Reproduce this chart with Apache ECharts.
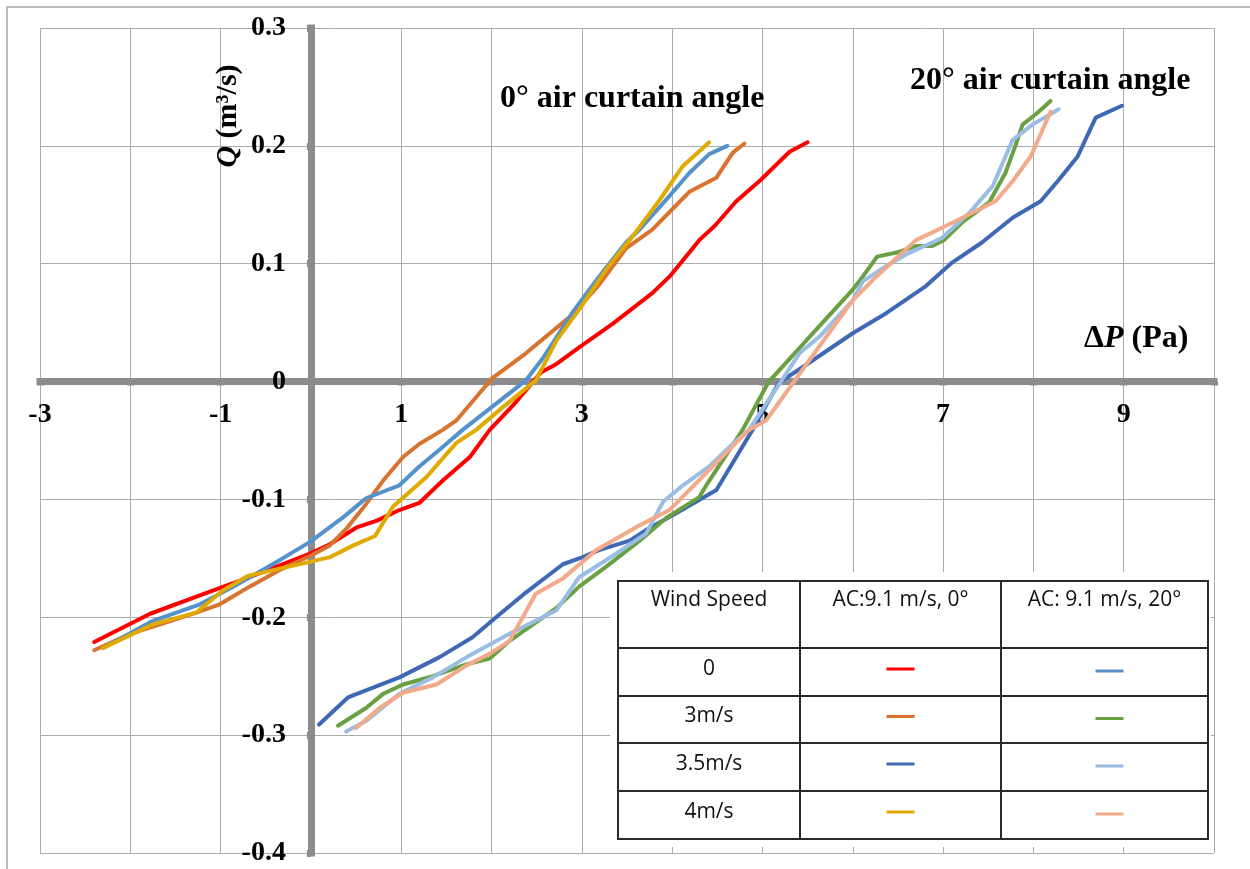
<!DOCTYPE html>
<html>
<head>
<meta charset="utf-8">
<script src="https://cdn.jsdelivr.net/npm/echarts@6/dist/echarts.min.js"></script>
<style>html,body{margin:0;padding:0;background:#fff;}#c{width:1250px;height:869px;}</style>
</head>
<body>
<div id="c"></div>
<script>
// ---- data: [ΔP (Pa), Q (m3/s)] ----
const ac0_wind0   = [[-2.40,-0.221],[-1.78,-0.197],[-0.93,-0.173],[-0.68,-0.166],[-0.01,-0.146],[0.21,-0.138],[0.50,-0.124],[0.73,-0.118],[0.98,-0.109],[1.20,-0.103],[1.46,-0.084],[1.76,-0.064],[1.98,-0.041],[2.24,-0.020],[2.55,0.008],[2.72,0.015],[2.99,0.030],[3.34,0.049],[3.78,0.075],[3.97,0.089],[4.12,0.103],[4.30,0.120],[4.47,0.132],[4.71,0.153],[4.98,0.171],[5.30,0.195],[5.50,0.203]];
const ac0_wind3   = [[-2.40,-0.228],[-2.00,-0.214],[-1.67,-0.206],[-1.27,-0.196],[-1.01,-0.189],[-0.68,-0.174],[-0.35,-0.160],[-0.01,-0.148],[0.21,-0.139],[0.39,-0.125],[0.61,-0.104],[0.80,-0.084],[1.02,-0.064],[1.20,-0.053],[1.46,-0.041],[1.61,-0.033],[2.01,0.003],[2.38,0.024],[2.90,0.057],[3.19,0.082],[3.49,0.113],[3.78,0.129],[4.19,0.161],[4.49,0.173],[4.67,0.194],[4.80,0.202]];
const ac0_wind35  = [[-2.30,-0.226],[-1.75,-0.203],[-1.23,-0.189],[-0.86,-0.174],[-0.38,-0.153],[-0.01,-0.136],[0.36,-0.115],[0.61,-0.099],[0.98,-0.088],[1.20,-0.072],[1.42,-0.058],[1.68,-0.041],[2.38,0.001],[2.57,0.020],[2.90,0.059],[3.19,0.089],[3.49,0.118],[3.64,0.129],[3.93,0.154],[4.19,0.177],[4.41,0.193],[4.61,0.200]];
const ac0_wind4   = [[-2.30,-0.226],[-1.75,-0.206],[-1.27,-0.196],[-0.97,-0.177],[-0.70,-0.165],[-0.42,-0.160],[-0.01,-0.153],[0.21,-0.149],[0.47,-0.139],[0.71,-0.131],[0.91,-0.106],[1.28,-0.081],[1.61,-0.052],[1.83,-0.041],[2.09,-0.024],[2.49,0.001],[2.72,0.035],[2.97,0.061],[3.27,0.095],[3.56,0.123],[3.86,0.154],[4.12,0.183],[4.41,0.203]];
const ac20_wind0  = [[0.09,-0.291],[0.41,-0.268],[0.98,-0.251],[1.42,-0.234],[1.79,-0.217],[2.05,-0.200],[2.38,-0.179],[2.79,-0.155],[3.01,-0.149],[3.19,-0.143],[3.53,-0.135],[3.71,-0.126],[4.04,-0.112],[4.49,-0.092],[4.89,-0.041],[5.18,-0.001],[5.46,0.013],[6.00,0.041],[6.37,0.058],[6.81,0.081],[7.10,0.101],[7.43,0.118],[7.77,0.139],[8.08,0.153],[8.28,0.171],[8.49,0.191],[8.69,0.224],[8.98,0.234]];
const ac20_wind3  = [[0.30,-0.292],[0.61,-0.277],[0.80,-0.265],[1.02,-0.257],[1.35,-0.250],[1.72,-0.240],[1.98,-0.235],[2.20,-0.220],[2.46,-0.206],[2.72,-0.192],[2.97,-0.174],[3.27,-0.157],[3.64,-0.135],[3.93,-0.116],[4.30,-0.098],[4.37,-0.089],[4.78,-0.041],[5.07,0.000],[5.19,0.010],[5.63,0.047],[6.00,0.078],[6.11,0.089],[6.27,0.106],[6.51,0.110],[6.70,0.115],[6.88,0.115],[7.01,0.120],[7.21,0.135],[7.51,0.152],[7.69,0.177],[7.80,0.200],[7.88,0.218],[8.03,0.227],[8.19,0.238]];
const ac20_wind35 = [[0.39,-0.297],[0.61,-0.288],[0.98,-0.265],[1.35,-0.251],[1.72,-0.234],[2.20,-0.214],[2.46,-0.204],[2.72,-0.194],[2.97,-0.166],[3.34,-0.148],[3.71,-0.129],[3.90,-0.102],[4.12,-0.088],[4.41,-0.072],[4.67,-0.053],[4.85,-0.041],[5.41,0.024],[5.63,0.038],[6.00,0.069],[6.11,0.085],[6.37,0.098],[6.62,0.109],[6.88,0.118],[6.99,0.122],[7.29,0.143],[7.55,0.166],[7.77,0.205],[7.99,0.218],[8.28,0.231]];
const ac20_wind4  = [[0.50,-0.294],[0.76,-0.277],[1.02,-0.264],[1.39,-0.257],[1.72,-0.241],[1.98,-0.231],[2.20,-0.220],[2.49,-0.180],[2.79,-0.167],[3.16,-0.143],[3.64,-0.122],[3.97,-0.109],[4.45,-0.072],[4.85,-0.041],[5.04,-0.033],[5.63,0.030],[6.00,0.069],[6.26,0.089],[6.70,0.120],[7.03,0.132],[7.29,0.142],[7.58,0.153],[7.77,0.170],[7.97,0.191],[8.19,0.229]];

const seriesNames  = ['AC 0°, wind 0','AC 0°, wind 3m/s','AC 0°, wind 3.5m/s','AC 0°, wind 4m/s','AC 20°, wind 0','AC 20°, wind 3m/s','AC 20°, wind 3.5m/s','AC 20°, wind 4m/s'];
const seriesData   = [ac0_wind0, ac0_wind3, ac0_wind35, ac0_wind4, ac20_wind0, ac20_wind3, ac20_wind35, ac20_wind4];
const seriesColors = ['#FF0000','#D9742F','#5592CC','#E0AA00','#3F68B5','#69A042','#9ABEE3','#F2AA8A'];

// legend table content
const tableHeaders = ['Wind Speed','AC:9.1 m/s, 0°','AC: 9.1 m/s, 20°'];
const tableRows    = ['0','3m/s','3.5m/s','4m/s'];
const tableColors0  = ['#FF0000','#D9742F','#3F68B5','#E0AA00'];
const tableColors20 = ['#5B8FC8','#69A042','#97B9E0','#F2A98A'];

const xMin = -3, xMax = 10, xStep = 1;
const yMin = -0.4, yMax = 0.3, yStep = 0.1;

const serif = 'Liberation Serif';
const sans = 'Open Sans';
const axisGrey = '#8c8c8c';
const gridGrey = '#ababab';

// ---- table graphic ----
const tb = {l: 618, r: 1208, t: 581, b: 839, colX: [800, 1001], rowY: [648, 696, 743, 791]};
const colCenters = [(tb.l + tb.colX[0]) / 2, (tb.colX[0] + tb.colX[1]) / 2, (tb.colX[1] + tb.r) / 2];
const rowTops = [tb.rowY[0], tb.rowY[1], tb.rowY[2], tb.rowY[3]];
const rowBots = [tb.rowY[1], tb.rowY[2], tb.rowY[3], tb.b];
const graphics = [];
graphics.push({type:'polyline', z:1, shape:{points:[[7,869],[7,7],[1250,7]]}, style:{stroke:'#a6a6a6', lineWidth:1.5, fill:null}});
graphics.push({type:'rect', z:100, shape:{x:610, y:572, width:601, height:275}, style:{fill:'#fff'}});
graphics.push({type:'rect', z:101, shape:{x:tb.l, y:tb.t, width:tb.r-tb.l, height:tb.b-tb.t}, style:{fill:null, stroke:'#2a2a2a', lineWidth:2}});
tb.colX.forEach(x => graphics.push({type:'line', z:101, shape:{x1:x, y1:tb.t, x2:x, y2:tb.b}, style:{stroke:'#2a2a2a', lineWidth:2}}));
tb.rowY.forEach(y => graphics.push({type:'line', z:101, shape:{x1:tb.l, y1:y, x2:tb.r, y2:y}, style:{stroke:'#2a2a2a', lineWidth:2}}));
tableHeaders.forEach((h, i) => graphics.push({type:'text', z:102, x: colCenters[i], y: 600,
  style:{text:h, fontFamily:sans, fontSize:21, fill:'#111', align:'center', verticalAlign:'middle'}}));
tableRows.forEach((r, i) => {
  const cy = (rowTops[i] + rowBots[i]) / 2 - 3;
  graphics.push({type:'text', z:102, x: colCenters[0], y: cy,
    style:{text:r, fontFamily:sans, fontSize:21, fill:'#111', align:'center', verticalAlign:'middle'}});
  graphics.push({type:'line', z:102, shape:{x1:colCenters[1]-14, y1:cy, x2:colCenters[1]+14, y2:cy}, style:{stroke:tableColors0[i], lineWidth:3}});
  graphics.push({type:'line', z:102, shape:{x1:colCenters[2]-9, y1:cy+2, x2:colCenters[2]+19, y2:cy+2}, style:{stroke:tableColors20[i], lineWidth:3}});
});
graphics.push({type:'text', z:50, x:500, y:99, style:{text:'0° air curtain angle', fontFamily:serif, fontWeight:'bold', fontSize:32, fill:'#000', align:'left', verticalAlign:'middle'}});
graphics.push({type:'text', z:50, x:910, y:81, style:{text:'20° air curtain angle', fontFamily:serif, fontWeight:'bold', fontSize:32, fill:'#000', align:'left', verticalAlign:'middle'}});
graphics.push({type:'text', z:50, x:1084, y:339, style:{text:'Δ{i|P} (Pa)', fontFamily:serif, fontWeight:'bold', fontSize:32, fill:'#000', align:'left', verticalAlign:'middle',
  rich:{i:{fontFamily:serif, fontWeight:'bold', fontStyle:'italic', fontSize:32, fill:'#000'}}}});
graphics.push({type:'text', z:50, x:228, y:116, rotation:Math.PI/2, style:{text:'{i|Q} (m³/s)', fontFamily:serif, fontWeight:'bold', fontSize:30, fill:'#000', align:'center', verticalAlign:'middle',
  rich:{i:{fontFamily:serif, fontWeight:'bold', fontStyle:'italic', fontSize:30, fill:'#000'}}}});

const chart = echarts.init(document.getElementById('c'), null, {renderer:'canvas'});
chart.setOption({
  backgroundColor:'#fff',
  animation:false,
  grid:{left:40, right:36, top:28, bottom:16, containLabel:false, outerBoundsMode:'none'},
  xAxis:{
    type:'value', min:xMin, max:xMax, interval:xStep, position:'bottom', offset:0,
    axisLine:{show:true, onZero:false, lineStyle:{color:axisGrey, width:7, cap:'square'}},
    axisTick:{show:true, length:4, lineStyle:{color:axisGrey, width:7}},
    axisLabel:{margin:19, fontFamily:serif, fontWeight:'bold', fontSize:28, color:'#000',
      formatter: v => (Math.round(v) % 2 !== 0 ? String(Math.round(v)) : '')},
    splitLine:{show:true, lineStyle:{color:gridGrey, width:1}}
  },
  yAxis:{
    type:'value', min:yMin, max:yMax, interval:yStep, position:'left', offset:0,
    axisLine:{show:true, onZero:false, lineStyle:{color:axisGrey, width:7, cap:'square'}},
    axisTick:{show:true, length:4, lineStyle:{color:axisGrey, width:7}},
    axisLabel:{margin:25, fontFamily:serif, fontWeight:'bold', fontSize:28, color:'#000',
      formatter: v => (Math.abs(v) < 1e-9 ? '0' : v.toFixed(1))},
    splitLine:{show:true, lineStyle:{color:gridGrey, width:1}}
  },
  series: seriesData.map((d, i) => ({
    name: seriesNames[i], type:'line', data:d, showSymbol:false, symbol:'none',
    lineStyle:{color:seriesColors[i], width:4, join:'round', cap:'round'},
    itemStyle:{color:seriesColors[i]}, z:3
  })),
  graphic: graphics
});
// move both axes (line, ticks, labels) so they cross at the origin
const x0px = chart.convertToPixel({xAxisIndex:0}, 0);
const xMinPx = chart.convertToPixel({xAxisIndex:0}, xMin);
const y0px = chart.convertToPixel({yAxisIndex:0}, 0);
const yMinPx = chart.convertToPixel({yAxisIndex:0}, yMin);
chart.setOption({
  xAxis:{offset: -(yMinPx - y0px)},
  yAxis:{offset: -(x0px - xMinPx)}
});
</script>
</body>
</html>
